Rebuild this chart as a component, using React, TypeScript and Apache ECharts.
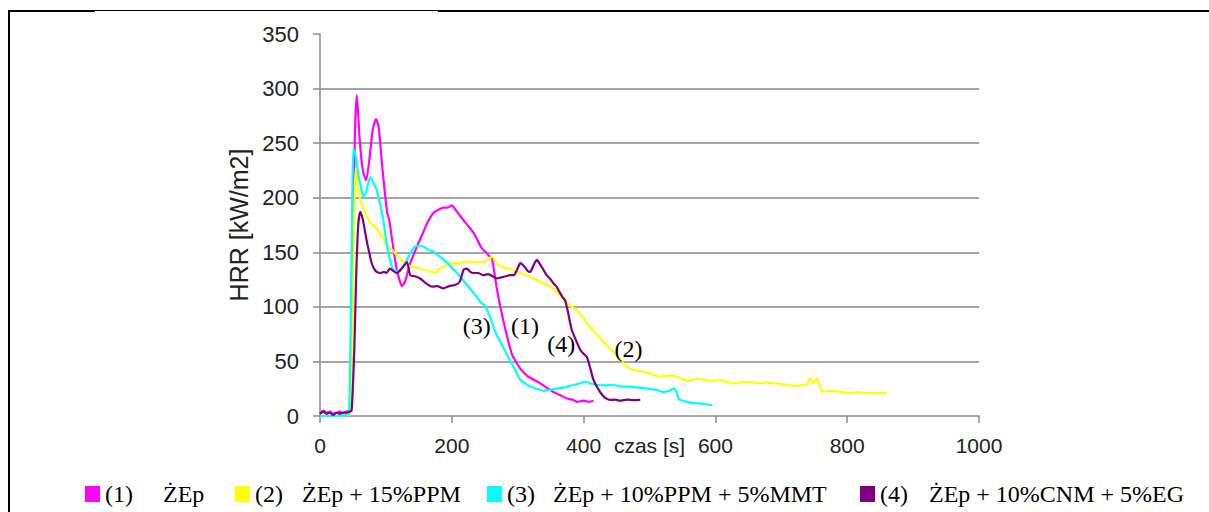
import React, { useEffect, useRef } from "react";
import * as echarts from "echarts";

// ---- data ----
const seriesNames = ["(1)", "(2)", "(3)", "(4)"];
const seriesLabels = ["ŻEp", "ŻEp + 15%PPM", "ŻEp + 10%PPM + 5%MMT", "ŻEp + 10%CNM + 5%EG"];
const seriesColors = ["#ff00ff", "#ffff00", "#00ffff", "#800080"];

const xTicks = [0, 200, 400, 600, 800, 1000];
const yTicks = [0, 50, 100, 150, 200, 250, 300, 350];
const yGridLines = [50, 100, 150, 200, 250, 300];

const hrr1: number[][] = [
  [0, 2], [5, 5], [10, 3], [15, 4], [20, 2], [25, 3], [30, 4], [35, 3], [40, 4], [46, 5],
  [50, 150], [53, 260], [56, 294], [60, 255], [65, 225], [70, 216], [75, 235], [80, 262],
  [85, 272], [89, 265], [95, 225], [102, 186], [105, 180], [111, 155], [116.5, 134],
  [121.5, 123], [124, 119], [129, 123], [137, 140], [147, 155], [155, 166], [163, 177],
  [172, 186], [180, 189], [187, 191], [194, 191], [200, 193], [208, 187], [217, 180],
  [225, 174], [233, 168], [240, 160], [245, 154], [252, 150], [256, 147], [261, 144],
  [268, 118], [278, 88], [291, 57], [300, 47], [306, 42], [316, 36], [325, 33], [334, 30],
  [344, 26], [354, 22], [365, 19], [375, 16], [383, 15], [390, 13], [400, 14], [408, 13], [415, 14],
];

const hrr2: number[][] = [
  [0, 0], [10, 0], [20, 0], [30, 0], [40, 1], [46, 2], [49, 80], [52, 190], [54, 227],
  [58, 207], [64, 193], [71, 183], [78, 176], [86, 172], [93, 165], [101, 158], [108, 153],
  [116, 148], [125, 142], [137, 137], [147, 136], [157, 134], [165, 133], [175, 131],
  [182, 135], [187, 137], [197, 139], [208, 140], [220, 141], [238, 141], [248, 141],
  [256, 144], [261, 146], [266, 142], [271, 138], [281, 136], [291, 134], [303, 131],
  [314, 129], [324, 126], [334, 123], [344, 120], [354, 117], [362, 112], [370, 106],
  [380, 101], [390, 97], [398, 91], [405, 85], [415, 78], [425, 71], [435, 65], [445, 59],
  [455, 52], [466, 45], [476, 42], [486, 41], [500, 39], [516, 36], [530, 37], [542, 36],
  [559, 32], [572, 34], [585, 33], [597, 32], [607, 33], [618, 31], [628, 30], [640, 31],
  [653, 31], [665, 30], [678, 30.5], [690, 30], [703, 29], [712, 28], [721, 27.5], [730, 28],
  [739, 29], [744, 34.5], [749, 30], [754, 34.5], [758, 28], [762, 22], [770, 23], [780, 23],
  [790, 22], [805, 21], [815, 22], [830, 21], [845, 21], [860, 21],
];

const hrr3: number[][] = [
  [0, 0], [10, 0], [20, 0], [30, 0], [40, 1], [44, 2], [47, 100], [49, 200], [50.6, 245],
  [54, 238], [58, 222], [62, 210], [66, 201], [70, 205], [76, 219], [80, 215], [86, 207],
  [91, 195], [96, 180], [100, 163], [104, 149], [108, 139], [111, 134], [116, 133],
  [121.5, 134], [127, 138], [132, 143], [138, 150], [144, 155], [150, 156], [157, 155],
  [165, 152], [172, 150.5], [182, 146], [192, 141], [200, 136], [208, 131], [215, 126],
  [223, 120], [230, 115], [238, 109], [244, 104], [250, 101], [256, 94], [261, 86],
  [266, 77], [273, 69], [278, 63], [285, 55], [291, 48], [298, 40], [304, 33], [311, 30],
  [319, 27], [329, 25], [339, 23], [349, 24], [359, 25], [370, 26], [385, 28.4], [395, 30],
  [402, 31.4], [410, 30], [420, 28.4], [432, 28], [445, 28.4], [458, 27], [471, 27],
  [484, 26], [496, 25], [510, 24], [521, 22], [530, 23], [537, 25], [541, 22], [544, 16],
  [550, 14], [557, 13], [565, 12], [572, 11.6], [582, 11], [595, 10],
];

const hrr4: number[][] = [
  [0, 2], [5, 4], [10, 2], [15, 3], [20, 1], [25, 3], [30, 2], [35, 3], [40, 3], [45, 4],
  [48, 5], [52, 60], [55, 130], [58, 175], [61, 187], [65, 180], [68, 170], [71, 160],
  [75, 149], [78.5, 140], [82, 135], [86, 132], [92, 131], [97, 132], [101, 131], [106, 135],
  [111, 133], [116, 131], [121, 133], [126.5, 137], [132, 141], [137, 129], [144, 128],
  [152, 126], [160, 122], [170, 118.5], [178, 119], [187, 117], [196, 119], [205, 120],
  [212, 123], [218, 134], [223, 135], [228, 132], [233, 131], [240, 131], [248, 129],
  [255, 130], [262, 128], [268, 126], [275, 127], [282, 128], [288, 129], [294, 129],
  [299, 134], [304, 140], [310, 137], [315, 133], [319, 132], [324, 138], [329, 143],
  [334, 139], [339, 134], [344, 129], [350, 125], [355, 121], [359, 118.5], [364, 113],
  [368, 109], [372, 106], [376, 96], [382, 79], [388, 70], [395, 60.5], [400, 57], [405, 54],
  [410, 44], [415, 33], [420, 27], [425, 22], [432, 17], [440, 14.7], [448, 15], [455, 14],
  [466, 15], [475, 14.5], [486, 14.7],
];

const seriesData = [hrr1, hrr2, hrr3, hrr4];

// curve annotations (label, time, value)
const annotationText = ["(1)", "(2)", "(3)", "(4)"];
const annotationX = [311, 468, 238, 366];
const annotationY = [82.5, 61.5, 82.5, 66];

const legendLeft = [85, 235, 487, 860];
const legendNumWidth = [58, 47, 46, 49];

export default function App() {
  const ref = useRef<HTMLDivElement>(null);
  useEffect(() => {
    if (!ref.current) return;
    const chart = echarts.init(ref.current, undefined, { renderer: "svg" });
    const sans = "'Liberation Sans', Arial, sans-serif";
    const serif = "'Liberation Serif', 'Times New Roman', serif";
    const axisGray = "#8c8c8c";

    const gridSeries = {
      name: "grid",
      type: "line",
      data: [] as number[][],
      silent: true,
      z: 1,
      markLine: {
        silent: true,
        z: 1,
        symbol: "none",
        label: { show: false },
        lineStyle: { color: "#a6a6a6", width: 2, type: "solid" },
        data: yGridLines.map((v) => ({ yAxis: v })),
      },
    };

    const series: any[] = seriesNames.map((n, i) => ({
      name: n,
      type: "line",
      data: seriesData[i],
      showSymbol: false,
      symbol: "none",
      smooth: 0.2,
      lineStyle: { color: seriesColors[i], width: 2.2 },
      itemStyle: { color: seriesColors[i] },
      z: 2 + i,
      markPoint: {
        symbol: "circle",
        symbolSize: 1,
        itemStyle: { color: "transparent" },
        label: {
          show: true,
          position: "inside",
          color: "#000",
          fontFamily: serif,
          fontSize: 24,
          formatter: annotationText[i],
        },
        data: [{ coord: [annotationX[i], annotationY[i]] }],
      },
    }));
    series.unshift(gridSeries);

    const legends = seriesNames.map((n, i) => ({
      data: [n],
      left: legendLeft[i],
      top: 482,
      icon: "rect",
      itemWidth: 15,
      itemHeight: 16,
      itemGap: 5,
      padding: 0,
      formatter: (name: string) => `{a|${name}}{b|${seriesLabels[i]}}`,
      textStyle: {
        fontFamily: serif,
        fontSize: 24,
        color: "#000",
        rich: {
          a: { fontFamily: serif, fontSize: 24, color: "#000", width: legendNumWidth[i] },
          b: { fontFamily: serif, fontSize: 24, color: "#000" },
        },
      },
    }));

    chart.setOption({
      animation: false,
      backgroundColor: "#fff",
      grid: { left: 320, right: 230, top: 34, bottom: 96, containLabel: false },
      legend: legends,
      xAxis: {
        type: "value",
        min: xTicks[0],
        max: xTicks[xTicks.length - 1],
        interval: 200,
        name: "czas [s]",
        nameLocation: "middle",
        nameGap: 19,
        nameMoveOverlap: false,
        nameTextStyle: { fontFamily: sans, fontSize: 21, color: "#222", verticalAlign: "top" },
        axisLine: { show: true, lineStyle: { color: axisGray, width: 1.5 } },
        axisTick: { show: true, length: 7, lineStyle: { color: axisGray, width: 1.5 } },
        splitLine: { show: false },
        axisLabel: {
          fontFamily: sans,
          fontSize: 21,
          color: "#222",
          margin: 19,
          formatter: (v: number) => String(v),
        },
      },
      yAxis: {
        type: "value",
        min: yTicks[0],
        max: yTicks[yTicks.length - 1],
        interval: 50,
        name: "HRR [kW/m2]",
        nameLocation: "middle",
        nameGap: 68,
        nameTextStyle: { fontFamily: sans, fontSize: 25, color: "#222" },
        axisLine: { show: true, lineStyle: { color: axisGray, width: 1.5 } },
        axisTick: { show: true, length: 7, lineStyle: { color: axisGray, width: 1.5 } },
        splitLine: { show: false },
        axisLabel: {
          fontFamily: sans,
          fontSize: 22,
          color: "#222",
          margin: 21,
          formatter: (v: number) => String(v),
        },
      },
      series,
    });
    return () => chart.dispose();
  }, []);

  const frame = (left: number, top: number, width: number, height: number) => ({
    position: "absolute" as const,
    left,
    top,
    width,
    height,
    background: "#000",
    pointerEvents: "none" as const,
  });

  return (
    <div style={{ position: "fixed", left: 0, top: 0, width: 1209, height: 512, background: "#fff" }}>
      <div ref={ref} style={{ position: "absolute", left: 0, top: 0, width: 1209, height: 512 }} />
      <div style={frame(8, 10, 2, 502)} />
      <div style={frame(8, 10, 87, 2)} />
      <div style={frame(95, 10, 343, 1)} />
      <div style={frame(438, 10, 771, 2)} />
    </div>
  );
}
